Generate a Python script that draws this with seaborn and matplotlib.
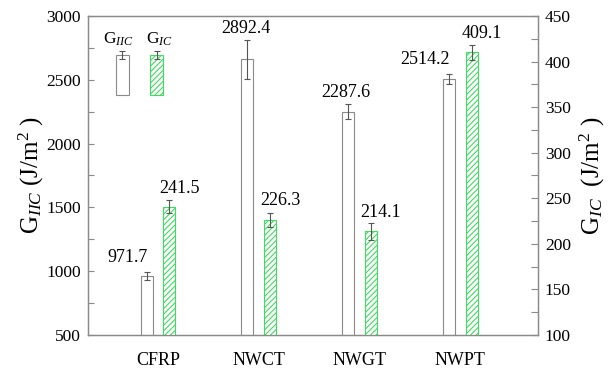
import numpy as np
import pandas as pd
import matplotlib
matplotlib.use("Agg")
import matplotlib.pyplot as plt
import seaborn as sns
from matplotlib.patches import Rectangle
from matplotlib.ticker import MultipleLocator

# data
categories = ['CFRP', 'NWCT', 'NWGT', 'NWPT']
g2c = [962, 2660, 2250, 2504]          # left axis, white bars
g2c_err = [30, 150, 57, 38]
g2c_text = ['971.7', '2892.4', '2287.6', '2514.2']
g1c = [240.7, 226.0, 213.7, 410.0]     # right axis, hatched bars
g1c_err = [7, 8, 9.5, 8]
g1c_text = ['241.5', '226.3', '214.1', '409.1']

sns.set_theme(style='white')
plt.rcParams['font.family'] = ['Liberation Serif', 'DejaVu Serif']
plt.rcParams['mathtext.fontset'] = 'custom'
plt.rcParams['mathtext.rm'] = 'Liberation Serif'
plt.rcParams['mathtext.it'] = 'Liberation Serif:italic'
plt.rcParams['hatch.linewidth'] = 0.8
for k in ('text.color', 'axes.labelcolor', 'xtick.color', 'ytick.color'):
    plt.rcParams[k] = 'black'

green = '#3fdc5f'
gray = '#8a8a8a'
errc = '#555555'

fig = plt.figure(figsize=(6.08, 3.74), dpi=100)
ax = fig.add_axes([88 / 608, 39 / 374, 450 / 608, 319 / 374])
ax2 = ax.twinx()

pos = np.arange(len(categories))
off = 0.113
w = 0.12

sns.barplot(x=pos - off, y=g2c, native_scale=True, width=w, color='white',
            edgecolor=gray, linewidth=0.8, errorbar=None, ax=ax)
ax.errorbar(pos - off, g2c, yerr=g2c_err, fmt='none', ecolor=errc,
            elinewidth=0.8, capsize=2.3, capthick=0.8)

sns.barplot(x=pos + off, y=g1c, native_scale=True, width=w, color='white',
            edgecolor=green, linewidth=0.8, hatch='//////', errorbar=None, ax=ax2)
ax2.errorbar(pos + off, g1c, yerr=g1c_err, fmt='none', ecolor=errc,
             elinewidth=0.8, capsize=2.3, capthick=0.8)

# value labels above the bars
dx_white = [-19.5, -2, -2, -24]
dy_white = [10, 7, 7.5, 10]
for i, t in enumerate(g2c_text):
    ax.annotate(t, (pos[i] - off, g2c[i] + g2c_err[i]), xytext=(dx_white[i], dy_white[i]),
                textcoords='offset pixels', ha='center', va='baseline', fontsize=13)
dy_green = [7.5, 7.5, 6, 7.5]
for i, t in enumerate(g1c_text):
    ax2.annotate(t, (pos[i] + off, g1c[i] + g1c_err[i]), xytext=(10, dy_green[i]),
                 textcoords='offset pixels', ha='center', va='baseline', fontsize=13)

ax.set_xlim(-0.695, 3.77)
ax.set_ylim(500, 3000)
ax2.set_ylim(100, 450)
ax.set_xticks(pos)
ax.set_xticklabels(categories, fontsize=13)
ax.tick_params(axis='x', length=0, pad=12)
ax.set_xlabel('')

ax.yaxis.set_major_locator(MultipleLocator(500))
ax.yaxis.set_minor_locator(MultipleLocator(250))
ax2.yaxis.set_major_locator(MultipleLocator(50))
ax2.yaxis.set_minor_locator(MultipleLocator(25))
ax.tick_params(axis='y', which='major', direction='in', length=4, width=0.8,
               color=gray, labelsize=12.5, pad=5, left=True)
ax.tick_params(axis='y', which='minor', direction='in', length=4, width=0.8,
               color=gray, left=True)
ax2.tick_params(axis='y', which='major', direction='in', length=5, width=0.8,
                color=gray, labelsize=12.5, pad=5, right=True)
ax2.tick_params(axis='y', which='minor', direction='in', length=5, width=0.8,
                color=gray, right=True)

for a in (ax, ax2):
    for s in a.spines.values():
        s.set_color(gray)
        s.set_linewidth(0.9)

ax.set_ylabel('G$_{IIC}$ (J/m$^2$ )', fontsize=18, labelpad=0)
ax2.set_ylabel('G$_{IC}$  (J/m$^2$ )', fontsize=18, labelpad=5)

# hand-made legend in the upper left corner
tr = ax.transAxes
lw_box = 0.029
ax.add_patch(Rectangle((0.062, 0.752), lw_box, 0.126, transform=tr, facecolor='white',
                       edgecolor=gray, linewidth=0.8, zorder=5))
ax.add_patch(Rectangle((0.138, 0.752), lw_box, 0.126, transform=tr, facecolor='white',
                       edgecolor=green, linewidth=0.8, hatch='//////', zorder=5))
ax.errorbar([0.062 + lw_box / 2, 0.138 + lw_box / 2], [0.878, 0.878], yerr=0.012,
            transform=tr, fmt='none', ecolor=errc, elinewidth=0.8, capsize=2.3,
            capthick=0.8, zorder=6)
ax.text(0.068, 0.915, 'G$_{IIC}$', transform=tr, ha='center', va='baseline', fontsize=12.5)
ax.text(0.158, 0.915, 'G$_{IC}$', transform=tr, ha='center', va='baseline', fontsize=12.5)

fig.savefig('out.png', dpi=100)
